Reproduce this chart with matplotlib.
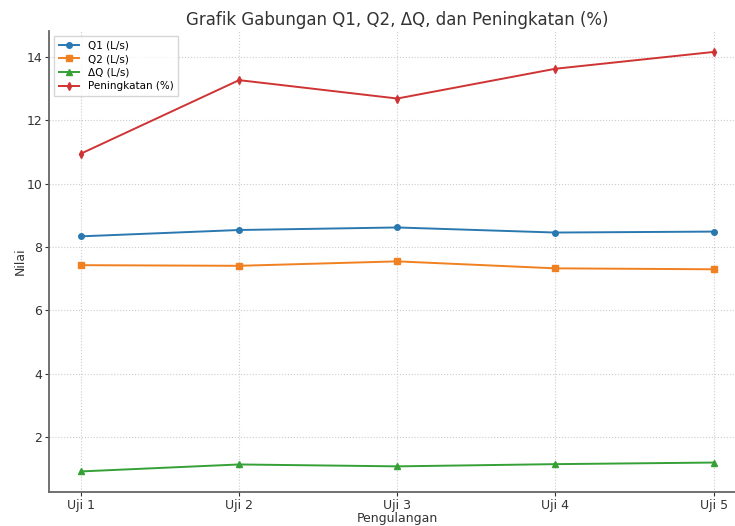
import matplotlib
matplotlib.use("Agg")
import matplotlib.pyplot as plt

# Data
pengulangan = ["Uji 1", "Uji 2", "Uji 3", "Uji 4", "Uji 5"]
q1 = [8.34, 8.54, 8.62, 8.46, 8.49]
q2 = [7.43, 7.41, 7.55, 7.33, 7.30]
delta_q = [0.92, 1.14, 1.08, 1.15, 1.20]
peningkatan = [10.95, 13.27, 12.69, 13.63, 14.16]

fig = plt.figure(figsize=(7.35, 5.26), dpi=100)
ax = fig.add_axes([0.0670, 0.0646, 0.947, 0.8764])

x = range(len(pengulangan))
ax.plot(x, q1, marker="o", markersize=4, linewidth=1.4, color="#2a78b0", label="Q1 (L/s)")
ax.plot(x, q2, marker="s", markersize=4, linewidth=1.4, color="#f08020", label="Q2 (L/s)")
ax.plot(x, delta_q, marker="^", markersize=4, linewidth=1.4, color="#35a035", label="ΔQ (L/s)")
ax.plot(x, peningkatan, marker="d", markersize=4, linewidth=1.4, color="#cf3333", label="Peningkatan (%)")

ax.set_xticks(list(x))
ax.set_xticklabels(pengulangan)
ax.set_yticks([2, 4, 6, 8, 10, 12, 14])
ax.set_xlim(-0.2, 4.2)
ax.set_ylim(0.27, 14.82)

ax.set_title("Grafik Gabungan Q1, Q2, ΔQ, dan Peningkatan (%)", fontsize=12, color="#333333", pad=4)
ax.set_xlabel("Pengulangan", fontsize=9, color="#333333", labelpad=0)
ax.set_ylabel("Nilai", fontsize=9, color="#333333", labelpad=0)

ax.grid(True, linestyle=":", linewidth=0.8, color="#cccccc")
ax.set_axisbelow(True)
for s in ["top", "right"]:
    ax.spines[s].set_visible(False)
for s in ["left", "bottom"]:
    ax.spines[s].set_color("#666666")
    ax.spines[s].set_linewidth(1.3)
ax.tick_params(labelsize=9, colors="#333333", length=3, pad=2)

ax.legend(loc="upper left", fontsize=7.5, frameon=True, edgecolor="#cccccc",
          fancybox=False, borderpad=0.4, labelspacing=0.35, handlelength=2.0)

fig.savefig("out.png", dpi=100)
